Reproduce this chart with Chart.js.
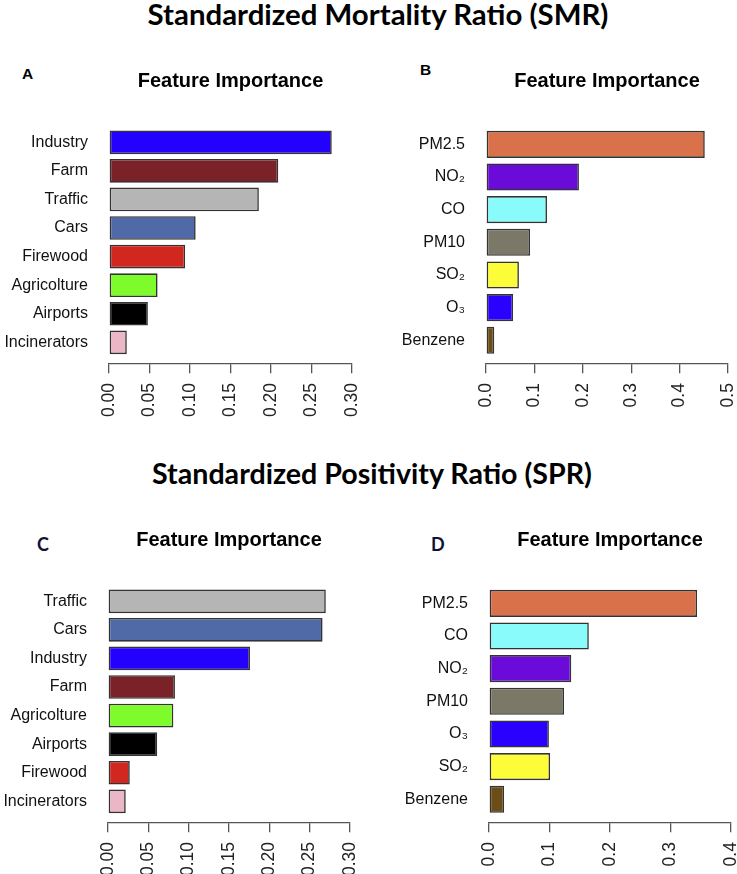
<!doctype html>
<html>

<head>
    <meta charset="utf-8">
    <title>Feature Importance</title>
    <script src="https://cdn.jsdelivr.net/npm/chart.js"></script>
    <style>
        body {
            margin: 0;
            width: 737px;
            height: 874px;
            overflow: hidden;
            background: #fff;
            position: relative;
        }

        .titulo {
            position: absolute;
            text-align: center;
            font-family: Lato, sans-serif;
            font-weight: 700;
            color: #000;
            white-space: nowrap;
        }

        .letra {
            position: absolute;
            font-weight: 700;
            white-space: nowrap;
        }

        canvas {
            position: absolute;
        }
    </style>
</head>

<body>

    <div class="titulo" style="left: 0; width: 756px; top: -1px; font-size: 29.4px; line-height: 29px;">Standardized Mortality Ratio (SMR)</div>
    <div class="titulo" style="left: 0; width: 744px; top: 459px; font-size: 28.6px; line-height: 29px;">Standardized Positivity Ratio (SPR)</div>

    <div class="letra" style="left: 22px; top: 66px; font: 700 15.5px/15px 'Liberation Sans', Arial, sans-serif;">A</div>
    <div class="letra" style="left: 420px; top: 62px; font: 700 15.5px/15px 'Liberation Sans', Arial, sans-serif;">B</div>
    <div class="letra" style="left: 37px; top: 535px; font: 700 18px/18px Lato, sans-serif; color: #10103a;">C</div>
    <div class="letra" style="left: 431px; top: 535px; font: 700 18px/18px Lato, sans-serif; color: #10103a;">D</div>

    <canvas id="graficoA" width="370" height="410" style="left: 0; top: 60px;"></canvas>
    <canvas id="graficoB" width="367" height="410" style="left: 370px; top: 60px;"></canvas>
    <canvas id="graficoC" width="370" height="410" style="left: 0; top: 519px;"></canvas>
    <canvas id="graficoD" width="367" height="410" style="left: 370px; top: 519px;"></canvas>

    <script>
        // SMR - fontes de emissao
        var rotulosA = ['Industry', 'Farm', 'Traffic', 'Cars', 'Firewood', 'Agricolture', 'Airports', 'Incinerators'];
        var valoresA = [0.275, 0.209, 0.185, 0.107, 0.094, 0.060, 0.048, 0.022];
        var eixoA = [0, 0.05, 0.10, 0.15, 0.20, 0.25, 0.30];

        // SMR - poluentes
        var rotulosB = ['PM2.5', 'NO₂', 'CO', 'PM10', 'SO₂', 'O₃', 'Benzene'];
        var valoresB = [0.452, 0.192, 0.126, 0.091, 0.068, 0.056, 0.017];
        var eixoB = [0, 0.1, 0.2, 0.3, 0.4, 0.5];

        // SPR - fontes de emissao
        var rotulosC = ['Traffic', 'Cars', 'Industry', 'Farm', 'Agricolture', 'Airports', 'Firewood', 'Incinerators'];
        var valoresC = [0.270, 0.266, 0.176, 0.083, 0.081, 0.061, 0.027, 0.022];
        var eixoC = [0, 0.05, 0.10, 0.15, 0.20, 0.25, 0.30];

        // SPR - poluentes
        var rotulosD = ['PM2.5', 'CO', 'NO₂', 'PM10', 'O₃', 'SO₂', 'Benzene'];
        var valoresD = [0.344, 0.165, 0.136, 0.124, 0.099, 0.101, 0.025];
        var eixoD = [0, 0.1, 0.2, 0.3, 0.4];

        var cores = {
            'Industry': '#2400ff',
            'Farm': '#7a2227',
            'Traffic': '#b5b5b5',
            'Cars': '#4f6aa6',
            'Firewood': '#d1271f',
            'Agricolture': '#7efb2a',
            'Airports': '#000000',
            'Incinerators': '#ebb6c6',
            'PM2.5': '#d9714b',
            'NO₂': '#6a0bd9',
            'CO': '#88fbfa',
            'PM10': '#7b7867',
            'SO₂': '#fcfc38',
            'O₃': '#2a00ff',
            'Benzene': '#6b4d15'
        };

        var fonte = "'Liberation Sans', Arial, Helvetica, sans-serif";
        Chart.defaults.color = '#111';
        Chart.defaults.font.family = fonte;

        function criarGrafico(id, rotulos, valores, eixo, casas, larguraY, margemDir, posEixo) {
            return new Chart(document.getElementById(id).getContext('2d'), {
                type: 'bar',
                data: {
                    labels: rotulos,
                    datasets: [{
                        data: valores,
                        backgroundColor: rotulos.map(r => cores[r]),
                        borderColor: '#333',
                        borderWidth: 1.6,
                        borderSkipped: false,
                        barPercentage: 0.83,
                        categoryPercentage: 1
                    }]
                },
                options: {
                    indexAxis: 'y',
                    responsive: false,
                    animation: false,
                    layout: {
                        // espaco do eixo x (posicionado abaixo das barras)
                        padding: { left: 0, right: margemDir, top: 0, bottom: 113.4 }
                    },
                    plugins: {
                        legend: { display: false },
                        tooltip: { enabled: false },
                        title: {
                            display: true,
                            text: 'Feature Importance',
                            fullSize: false,
                            color: '#000',
                            font: { size: 20, weight: 'bold', family: fonte },
                            padding: { top: 9, bottom: 35 }
                        }
                    },
                    scales: {
                        x: {
                            axis: 'x',
                            min: eixo[0],
                            max: eixo[eixo.length - 1],
                            position: { y: posEixo },
                            grid: {
                                drawOnChartArea: false,
                                drawTicks: true,
                                tickLength: 9,
                                color: '#555',
                                lineWidth: 1.3
                            },
                            border: { display: true, color: '#555', width: 1.3 },
                            ticks: {
                                minRotation: 90,
                                maxRotation: 90,
                                padding: 10,
                                color: '#222',
                                font: { size: 17.5 },
                                callback: function (value) {
                                    return value.toFixed(casas);
                                }
                            },
                            afterBuildTicks: function (scale) {
                                scale.ticks = eixo.map(v => ({ value: v }));
                            },
                            afterFit: function (scale) {
                                scale.height = 0;
                                scale.paddingLeft = 0;
                                scale.paddingRight = 0;
                            }
                        },
                        y: {
                            grid: { display: false, drawTicks: false },
                            border: { display: false },
                            ticks: {
                                padding: 21,
                                color: '#111',
                                font: { size: 16 }
                            },
                            afterFit: function (scale) {
                                scale.width = larguraY;
                                scale.paddingTop = 0;
                                scale.paddingBottom = 0;
                            }
                        }
                    }
                }
            });
        }

        var graficoA = criarGrafico('graficoA', rotulosA, valoresA, eixoA, 2, 109, 18, 7.76);
        var graficoB = criarGrafico('graficoB', rotulosB, valoresB, eixoB, 1, 116, 9, 6.73);
        var graficoC = criarGrafico('graficoC', rotulosC, valoresC, eixoC, 2, 108, 20, 7.76);
        var graficoD = criarGrafico('graficoD', rotulosD, valoresD, eixoD, 1, 119, 6, 6.73);

    </script>
</body>

</html>
